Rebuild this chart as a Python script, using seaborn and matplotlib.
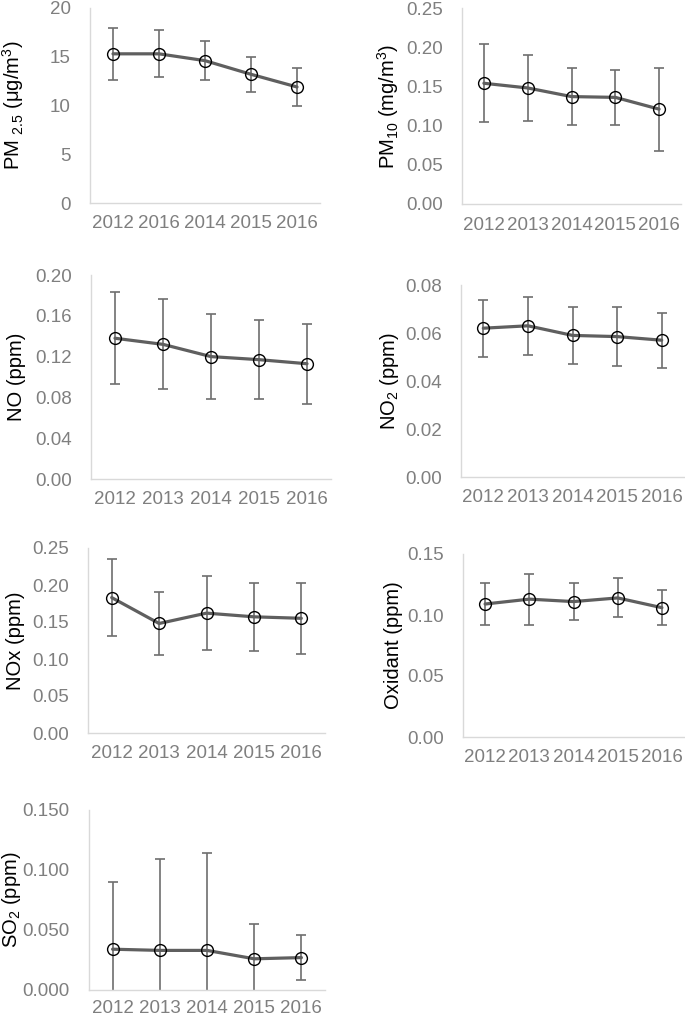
import numpy as np
import matplotlib
matplotlib.use("Agg")
import matplotlib.pyplot as plt
import seaborn as sns

# Data (mean and +/- error per year)
years_default = ["2012", "2013", "2014", "2015", "2016"]
years_pm25 = ["2012", "2016", "2014", "2015", "2016"]  # as printed in the original

pm25_mean = [15.3, 15.3, 14.6, 13.2, 11.9]
pm25_err = [2.7, 2.4, 2.0, 1.8, 1.9]

pm10_mean = [0.154, 0.148, 0.137, 0.136, 0.121]
pm10_err = [0.050, 0.042, 0.036, 0.035, 0.053]

no_mean = [0.138, 0.132, 0.120, 0.117, 0.113]
no_err = [0.045, 0.044, 0.042, 0.039, 0.039]

no2_mean = [0.062, 0.063, 0.059, 0.0585, 0.057]
no2_err = [0.0118, 0.0122, 0.0120, 0.0123, 0.0115]

nox_mean = [0.183, 0.148, 0.162, 0.157, 0.155]
nox_err = [0.052, 0.042, 0.050, 0.046, 0.048]

ox_mean = [0.109, 0.113, 0.111, 0.114, 0.106]
ox_err = [0.0175, 0.021, 0.015, 0.016, 0.0145]

so2_mean = [0.034, 0.033, 0.033, 0.026, 0.027]
so2_err = [0.056, 0.076, 0.081, 0.029, 0.019]

sns.set_theme(style="white")
plt.rcParams["font.family"] = ["Liberation Sans", "DejaVu Sans"]
plt.rcParams["mathtext.default"] = "regular"

W, H = 685, 1015
fig = plt.figure(figsize=(W / 100, H / 100), dpi=100)

TICK_COLOR = "#7f7f7f"
LINE_COLOR = "#5f5f5f"
ERR_COLOR = "#6e6e6e"
SPINE_COLOR = "#d9d9d9"

# (label, means, errs, xlabels, yticks, fmt, box=(left, right, top, bottom) px, label right edge px)
panels = [
    ("PM $_{2.5}$ (μg/m$^3$)", pm25_mean, pm25_err, years_pm25,
     np.arange(0, 21, 5), "{:.0f}", (90, 320, 8, 203), 26),
    ("PM$_{10}$ (mg/m$^3$)", pm10_mean, pm10_err, years_default,
     np.arange(0, 0.251, 0.05), "{:.2f}", (462, 681, 8, 204), 401),
    ("NO (ppm)", no_mean, no_err, years_default,
     np.arange(0, 0.201, 0.04), "{:.2f}", (91, 331, 275, 479), 26),
    ("NO$_2$ (ppm)", no2_mean, no2_err, years_default,
     np.arange(0, 0.081, 0.02), "{:.2f}", (461, 684, 285, 477), 401),
    ("NOx (ppm)", nox_mean, nox_err, years_default,
     np.arange(0, 0.251, 0.05), "{:.2f}", (88, 325, 548, 733), 25),
    ("Oxidant (ppm)", ox_mean, ox_err, years_default,
     np.arange(0, 0.151, 0.05), "{:.2f}", (463, 684, 554, 737), 403),
    ("SO$_2$ (ppm)", so2_mean, so2_err, years_default,
     np.arange(0, 0.151, 0.05), "{:.3f}", (89, 325, 810, 990), 23),
]

for label, means, errs, xlabels, yticks, fmt, box, lab_x in panels:
    left, right, top, bottom = box
    ax = fig.add_axes([left / W, 1 - bottom / H, (right - left) / W, (bottom - top) / H])
    x = np.arange(len(means))

    ax.errorbar(x, means, yerr=errs, fmt="none", ecolor=ERR_COLOR,
                elinewidth=1.2, capsize=3.5, capthick=1.2, zorder=2)
    sns.lineplot(x=x, y=means, ax=ax, color=LINE_COLOR, linewidth=2.3,
                 marker="o", markersize=8.5, markerfacecolor="none",
                 markeredgecolor="black", markeredgewidth=1.0, zorder=3)

    ax.set_xlim(-0.5, len(means) - 0.5)
    ax.set_ylim(yticks[0], yticks[-1])
    ax.set_xticks(x)
    ax.set_xticklabels(xlabels)
    ax.set_yticks(yticks)
    ax.set_yticklabels([fmt.format(v) for v in yticks])
    ax.tick_params(axis="both", length=0, labelsize=13.5, labelcolor=TICK_COLOR)
    ax.tick_params(axis="x", pad=7 if bottom > 900 else 9)
    ax.tick_params(axis="y", pad=14)

    for s in ["top", "right"]:
        ax.spines[s].set_visible(False)
    for s in ["left", "bottom"]:
        ax.spines[s].set_color(SPINE_COLOR)
        ax.spines[s].set_linewidth(1.0)

    ax.set_ylabel(label, fontsize=14.5, color="black")
    ax.yaxis.set_label_coords((lab_x - left) / (right - left), 0.5)

fig.savefig("out.png", dpi=100)
